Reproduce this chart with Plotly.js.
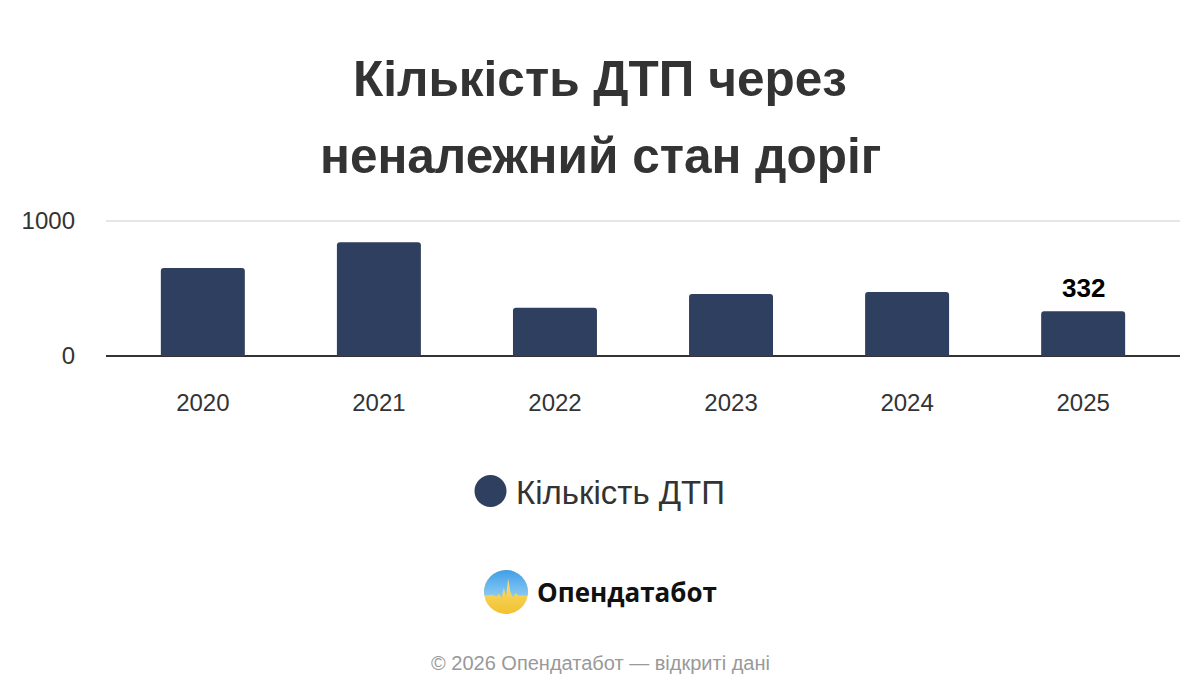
<!DOCTYPE html>
<html>
<head>
<meta charset="utf-8">
<script src="https://cdn.plot.ly/plotly-3.0.1.min.js"></script>
<style>
html,body{margin:0;padding:0;background:#fff;}
#chart{width:1200px;height:700px;}
</style>
</head>
<body>
<div id="chart"></div>
<script>
const years = ["2020", "2021", "2022", "2023", "2024", "2025"];
const accidents = [652, 843, 357, 460, 475, 332];
const barLabels = ["", "", "", "", "", "332"];
const titleLines = ["Кількість ДТП через", "неналежний стан доріг"];
const seriesName = "Кількість ДТП";
const brandName = "Опендатабот";
const footerText = "© 2026 Опендатабот — відкриті дані";

const FONT = "Liberation Sans, Arial, Helvetica, sans-serif";
const BAR = "#2f3f5f";

const logoSvg =
  '<svg xmlns="http://www.w3.org/2000/svg" width="100" height="100" viewBox="0 0 100 100">' +
  '<defs><clipPath id="c"><circle cx="50" cy="50" r="50"/></clipPath>' +
  '<linearGradient id="b" x1="0" y1="0" x2="0" y2="1"><stop offset="0" stop-color="#3f9fea"/><stop offset="1" stop-color="#8fcdf3"/></linearGradient>' +
  '<linearGradient id="y" x1="0" y1="0" x2="0" y2="1"><stop offset="0" stop-color="#fbe68a"/><stop offset="1" stop-color="#f2c12e"/></linearGradient></defs>' +
  '<g clip-path="url(#c)"><rect width="100" height="100" fill="url(#y)"/>' +
  '<path d="M0 0 H100 V58 H78 L72 52 L66 62 L60 50 L55 20 L50 60 L45 40 L40 64 L34 54 L28 60 L20 56 L0 58 Z" fill="url(#b)"/></g></svg>';
const logoUri = "data:image/svg+xml;base64," + btoa(logoSvg);

const trace = {
  type: "bar",
  x: years,
  y: accidents,
  marker: {color: BAR, cornerradius: 3},
  width: 0.477,
  name: seriesName,
  showlegend: false,
  hoverinfo: "x+y"
};

const layout = {
  width: 1200,
  height: 700,
  paper_bgcolor: "#fff",
  plot_bgcolor: "#fff",
  margin: {l: 106, r: 20, t: 219, b: 344},
  font: {family: FONT, color: "#333"},
  xaxis: {
    type: "category",
    range: [-0.55, 5.55],
    showgrid: false,
    showline: false,
    ticks: "",
    tickfont: {family: FONT, size: 24, color: "#333"},
    ticklabelstandoff: 30,
    fixedrange: true
  },
  yaxis: {
    range: [0, 1015],
    tickvals: [0, 1000],
    ticktext: ["0", "1000"],
    showgrid: true,
    gridcolor: "#e6e6e6",
    gridwidth: 2,
    zeroline: true,
    zerolinecolor: "#333",
    zerolinewidth: 2,
    showline: false,
    ticks: "",
    tickfont: {family: FONT, size: 24, color: "#333"},
    ticklabelstandoff: 30,
    fixedrange: true
  },
  showlegend: false,
  annotations: [],
  shapes: [],
  images: []
};

const plotW = 1200 - layout.margin.l - layout.margin.r;
const plotH = 700 - layout.margin.t - layout.margin.b;
function px(x) { return (x - layout.margin.l) / plotW; }
function py(y) { return (700 - layout.margin.b - y) / plotH; }

// title lines
[[titleLines[0], 78], [titleLines[1], 155]].forEach(([t, y]) => {
  layout.annotations.push({
    xref: "paper", yref: "paper", x: px(600), y: py(y), xanchor: "center", yanchor: "middle",
    text: "<b>" + t + "</b>", showarrow: false,
    font: {family: FONT, size: 49.5, color: "#333"}
  });
});

// data labels (category index on the x axis)
barLabels.forEach((lab, i) => {
  if (!lab) return;
  layout.annotations.push({
    xref: "x", yref: "y", x: i, y: accidents[i], xanchor: "center", yanchor: "bottom",
    yshift: 6, text: "<b>" + lab + "</b>", showarrow: false,
    font: {family: FONT, size: 26, color: "#000"}
  });
});

// legend
layout.shapes.push({
  type: "circle", xref: "paper", yref: "paper",
  x0: px(474.5), x1: px(506.5), y0: py(475), y1: py(507),
  fillcolor: BAR, line: {width: 0}
});
layout.annotations.push({
  xref: "paper", yref: "paper", x: px(514), y: py(492), xanchor: "left", yanchor: "middle",
  text: seriesName, showarrow: false, font: {family: FONT, size: 33, color: "#333"}
});

// brand
layout.images.push({
  source: logoUri, xref: "paper", yref: "paper",
  x: px(484), y: py(570), sizex: 44 / plotW, sizey: 44 / plotH,
  xanchor: "left", yanchor: "top", sizing: "stretch", layer: "above"
});
layout.annotations.push({
  xref: "paper", yref: "paper", x: px(535), y: py(592), xanchor: "left", yanchor: "middle",
  text: "<b>" + brandName + "</b>", showarrow: false,
  font: {family: "Open Sans, Noto Sans, sans-serif", size: 26, color: "#111"}
});

// footer
layout.annotations.push({
  xref: "paper", yref: "paper", x: px(600), y: py(663), xanchor: "center", yanchor: "middle",
  text: footerText, showarrow: false, font: {family: FONT, size: 20, color: "#999"}
});

Plotly.newPlot("chart", [trace], layout, {displayModeBar: false, staticPlot: true});
</script>
</body>
</html>
